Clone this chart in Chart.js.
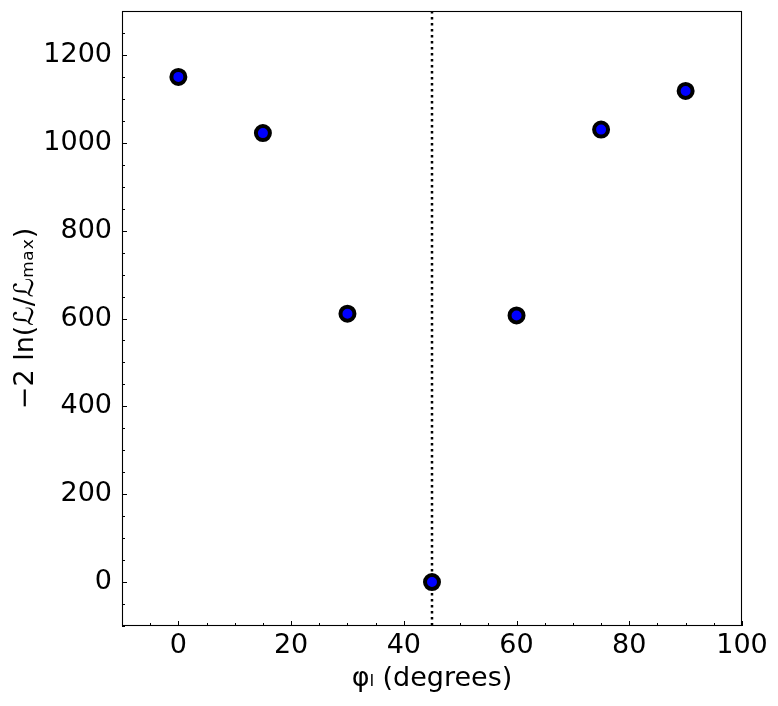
<!DOCTYPE html>
<html>
<head>
<meta charset="utf-8">
<script src="https://cdn.jsdelivr.net/npm/chart.js@4"></script>
<style>
  html, body { margin: 0; padding: 0; background: #fff; }
  #wrap { width: 778px; height: 706px; }
</style>
</head>
<body>
<div id="wrap"><canvas id="myChart" width="778" height="706"></canvas></div>
<script>
// angle scan: -2 ln(L/Lmax) vs phi
var angles = [0, 15, 30, 45, 60, 75, 90];
var nll = [1150, 1022, 611, 0, 607, 1030, 1118];
var bestAngle = 45;

var xTicks = [0, 20, 40, 60, 80, 100];
var yTicks = [0, 200, 400, 600, 800, 1000, 1200];
var xMin = -10, xMax = 100, xStep = 20, xMinor = 5;
var yMin = -100, yMax = 1300, yStep = 200, yMinor = 50;

var points = [];
for (var i = 0; i < angles.length; i++) {
    points.push({ x: angles[i], y: nll[i] });
}

// box + inward ticks (major and minor), and the dotted line at the best angle
var frame = {
    id: 'frame',
    beforeDatasetsDraw: function (chart) {
        var c = chart.ctx, a = chart.chartArea;
        var xs = chart.scales.x, ys = chart.scales.y;
        c.save();
        c.strokeStyle = '#000';
        c.lineWidth = 1;
        var v, p;
        for (v = Math.ceil(xMin / xMinor) * xMinor; v <= xMax; v += xMinor) {
            p = Math.round(xs.getPixelForValue(v)) + 0.5;
            var len = (v % xStep === 0) ? 5 : 3;
            c.beginPath();
            c.moveTo(p, a.bottom); c.lineTo(p, a.bottom - len);
            c.stroke();
        }
        for (v = Math.ceil(yMin / yMinor) * yMinor; v <= yMax; v += yMinor) {
            p = Math.round(ys.getPixelForValue(v)) + 0.5;
            var len2 = (v % yStep === 0) ? 5 : 3;
            c.beginPath();
            c.moveTo(a.left, p); c.lineTo(a.left + len2, p);
            c.stroke();
        }
        // dotted vertical line
        var bx = xs.getPixelForValue(bestAngle);
        c.lineWidth = 2.5;
        c.setLineDash([2.5, 3.5]);
        c.beginPath();
        c.moveTo(bx, a.top); c.lineTo(bx, a.bottom);
        c.stroke();
        c.setLineDash([]);
        c.lineWidth = 1.1;
        c.strokeRect(a.left + 0.5, a.top + 0.5, a.right - a.left - 1, a.bottom - a.top - 1);
        c.restore();
    }
};

var ctx = document.getElementById('myChart');

new Chart(ctx, {
    type: 'scatter',
    data: {
        datasets: [{
            label: 'scan',
            data: points,
            backgroundColor: '#0000ff',
            borderColor: '#000000',
            borderWidth: 4,
            pointRadius: 7,
            pointHoverRadius: 7
        }]
    },
    options: {
        responsive: false,
        animation: false,
        layout: { padding: { top: 10, right: 36, left: 0, bottom: 0 } },
        plugins: {
            legend: { display: false },
            tooltip: { enabled: false }
        },
        scales: {
            x: {
                type: 'linear',
                min: xMin,
                max: xMax,
                afterFit: function (s) {
                    s.height = 80;
                    s.paddingLeft = 0; s.paddingRight = 0;
                },
                afterBuildTicks: function (s) {
                    s.ticks = xTicks.map(function (t) { return { value: t }; });
                },
                grid: { display: false, drawTicks: false },
                border: { display: false },
                ticks: {
                    autoSkip: false,
                    color: '#000',
                    padding: 4,
                    maxRotation: 0,
                    callback: function (v) { return String(v); },
                    font: { family: 'DejaVu Sans', size: 27 }
                },
                title: {
                    display: true,
                    text: 'φₗ (degrees)',
                    color: '#000',
                    padding: { top: 0, bottom: 11 },
                    font: { family: 'DejaVu Sans', size: 27 }
                }
            },
            y: {
                type: 'linear',
                min: yMin,
                max: yMax,
                afterFit: function (s) {
                    s.width = 122;
                    s.paddingTop = 0; s.paddingBottom = 0;
                },
                afterBuildTicks: function (s) {
                    s.ticks = yTicks.map(function (t) { return { value: t }; });
                },
                grid: { display: false, drawTicks: false },
                border: { display: false },
                ticks: {
                    autoSkip: false,
                    color: '#000',
                    padding: 10,
                    callback: function (v) { return String(v); },
                    font: { family: 'DejaVu Sans', size: 27 }
                },
                title: {
                    display: true,
                    text: '−2 ln(ℒ/ℒₘₐₓ)',
                    color: '#000',
                    padding: { top: 10, bottom: 0 },
                    font: { family: 'DejaVu Sans', size: 27 }
                }
            }
        }
    },
    plugins: [frame]
});
</script>
</body>
</html>
